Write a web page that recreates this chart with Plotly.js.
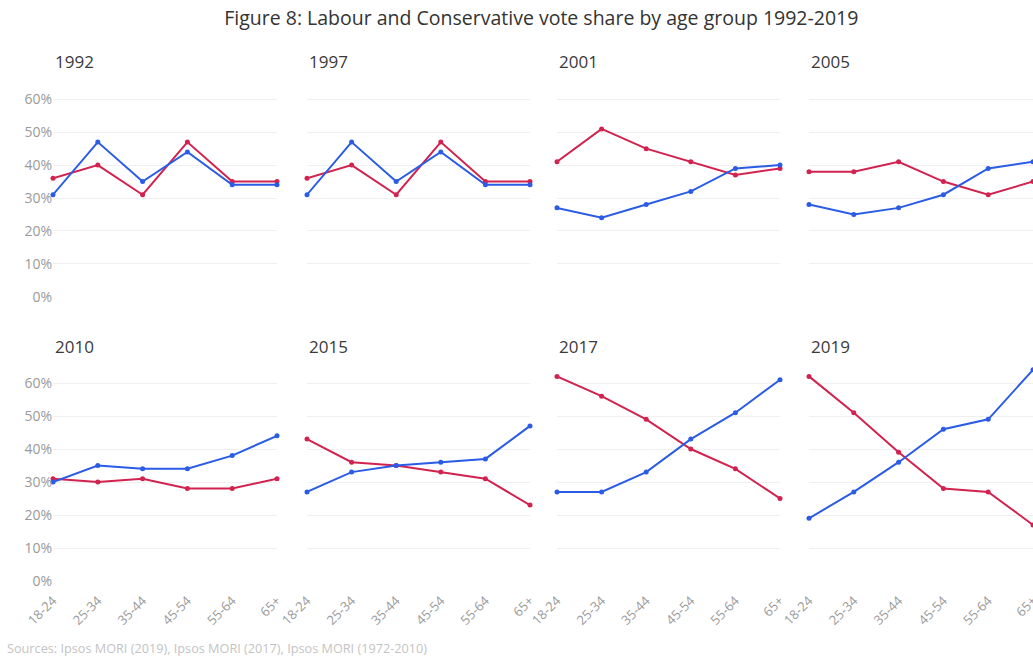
<!DOCTYPE html>
<html>
<head>
<meta charset="utf-8">
<script src="https://cdn.plot.ly/plotly-3.0.1.min.js"></script>
<style>
  html, body { margin: 0; padding: 0; background: #fff; }
  #chart { width: 1033px; height: 659px; }
</style>
</head>
<body>
<div id="chart"></div>
<script>
const ageGroups = ['18-24', '25-34', '35-44', '45-54', '55-64', '65+'];
const years = ['1992', '1997', '2001', '2005', '2010', '2015', '2017', '2019'];
const yTicks = [0, 10, 20, 30, 40, 50, 60];
const yTickLabels = ['0%', '10%', '20%', '30%', '40%', '50%', '60%'];

const labour1992 = [36, 40, 31, 47, 35, 35];
const conservative1992 = [31, 47, 35, 44, 34, 34];
const labour1997 = [36, 40, 31, 47, 35, 35];
const conservative1997 = [31, 47, 35, 44, 34, 34];
const labour2001 = [41, 51, 45, 41, 37, 39];
const conservative2001 = [27, 24, 28, 32, 39, 40];
const labour2005 = [38, 38, 41, 35, 31, 35];
const conservative2005 = [28, 25, 27, 31, 39, 41];
const labour2010 = [31, 30, 31, 28, 28, 31];
const conservative2010 = [30, 35, 34, 34, 38, 44];
const labour2015 = [43, 36, 35, 33, 31, 23];
const conservative2015 = [27, 33, 35, 36, 37, 47];
const labour2017 = [62, 56, 49, 40, 34, 25];
const conservative2017 = [27, 27, 33, 43, 51, 61];
const labour2019 = [62, 51, 39, 28, 27, 17];
const conservative2019 = [19, 27, 36, 46, 49, 64];

const labourSeries = [labour1992, labour1997, labour2001, labour2005, labour2010, labour2015, labour2017, labour2019];
const conservativeSeries = [conservative1992, conservative1997, conservative2001, conservative2005, conservative2010, conservative2015, conservative2017, conservative2019];

const W = 1033, H = 659;
const RED = '#d2224f';
const BLUE = '#2a5ce6';
const FONT = 'Open Sans, Noto Sans, sans-serif';

// pixel layout of the panels
const Y_MAX = 66;
const colX = [[53, 277], [307, 530], [557, 780], [809, 1033]];
// [zero-line pixel, pixels per percentage point]
const rowY = [[296.7, 3.29], [581, 3.3]];

const traces = [];
const layout = {
  width: W, height: H,
  margin: {l: 0, r: 0, t: 0, b: 0},
  paper_bgcolor: '#fff', plot_bgcolor: '#fff',
  showlegend: false,
  font: {family: FONT, color: '#555'},
  title: {
    text: 'Figure 8: Labour and Conservative vote share by age group 1992-2019',
    font: {family: FONT, size: 19.5, color: '#333'},
    x: 0.524, xanchor: 'center', y: 1 - 18 / H, yanchor: 'middle'
  },
  annotations: [{
    text: 'Sources: Ipsos MORI (2019), Ipsos MORI (2017), Ipsos MORI (1972-2010)',
    xref: 'paper', yref: 'paper', x: 5 / W, y: 1 - 648 / H,
    xanchor: 'left', yanchor: 'middle', showarrow: false,
    font: {family: FONT, size: 12.7, color: '#c4c4c4'}
  }],
  hovermode: false
};

years.forEach((yr, i) => {
  const row = Math.floor(i / 4), col = i % 4;
  const n = i + 1;
  const xa = 'x' + (n === 1 ? '' : n), ya = 'y' + (n === 1 ? '' : n);
  const xKey = 'xaxis' + (n === 1 ? '' : n), yKey = 'yaxis' + (n === 1 ? '' : n);
  const [x0, x1] = colX[col];
  const [yb, ppu] = rowY[row];
  const yt = yb - Y_MAX * ppu;

  layout[xKey] = {
    domain: [x0 / W, x1 / W],
    anchor: ya,
    type: 'category',
    categoryorder: 'array', categoryarray: ageGroups,
    range: [0, 5],
    showgrid: false, zeroline: false, showline: false,
    ticks: 'outside', ticklen: 6, tickcolor: 'rgba(0,0,0,0)',
    showticklabels: row === 1,
    tickangle: -45,
    tickfont: {family: FONT, size: 13, color: '#9a9a9a'},
    fixedrange: true
  };
  layout[yKey] = {
    domain: [1 - yb / H, 1 - yt / H],
    anchor: xa,
    range: [0, Y_MAX],
    tickvals: yTicks, ticktext: yTickLabels,
    showticklabels: col === 0,
    tickfont: {family: FONT, size: 14, color: '#9a9a9a'},
    ticks: '', ticklen: 0,
    showgrid: true, gridcolor: '#f0f0f0', gridwidth: 1,
    zeroline: false, showline: false,
    fixedrange: true
  };

  layout.annotations.push({
    text: yr, xref: 'paper', yref: 'paper',
    x: x0 / W, y: 1 - (row === 0 ? 61 : 346) / H,
    xanchor: 'left', yanchor: 'middle', showarrow: false,
    font: {family: FONT, size: 17, color: '#3a3a3a'}
  });

  traces.push({
    x: ageGroups, y: labourSeries[i], xaxis: xa, yaxis: ya,
    type: 'scatter', mode: 'lines+markers', name: 'Labour',
    line: {color: RED, width: 2}, marker: {color: RED, size: 5},
    cliponaxis: false
  });
  traces.push({
    x: ageGroups, y: conservativeSeries[i], xaxis: xa, yaxis: ya,
    type: 'scatter', mode: 'lines+markers', name: 'Conservative',
    line: {color: BLUE, width: 2}, marker: {color: BLUE, size: 5},
    cliponaxis: false
  });
});

Plotly.newPlot('chart', traces, layout, {staticPlot: true, displayModeBar: false});
</script>
</body>
</html>
